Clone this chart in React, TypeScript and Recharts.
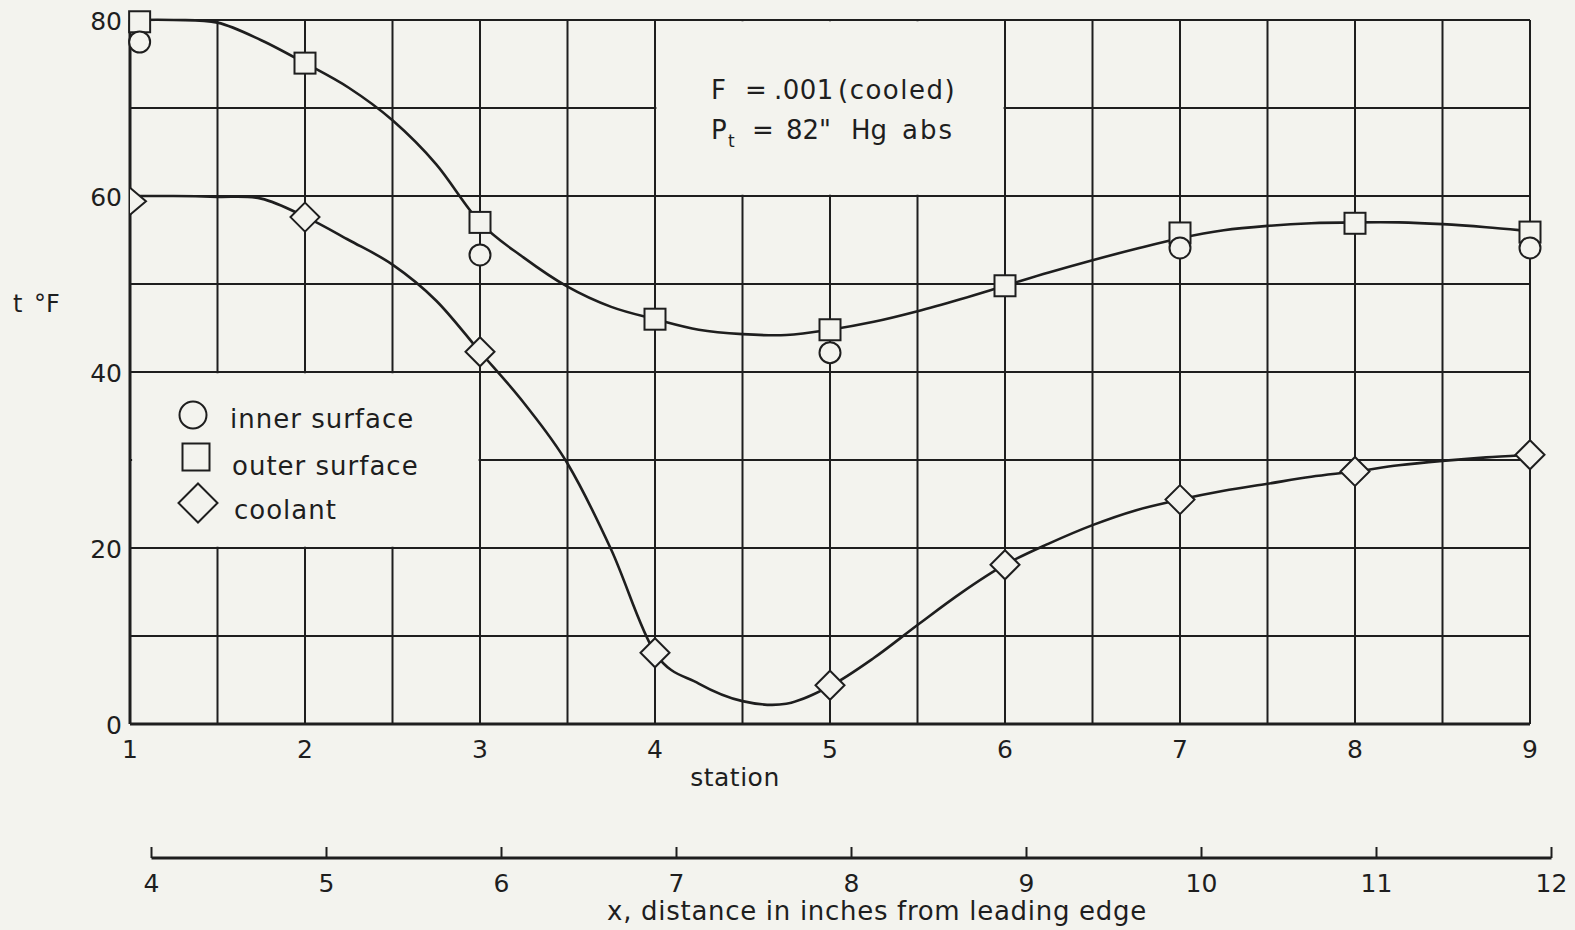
import React from 'react';
import { ComposedChart, Line, XAxis, YAxis, CartesianGrid, ReferenceArea, Legend } from 'recharts';

const BG = '#f3f3ee';
const INK = '#1e1e1e';
const FONT = '"DejaVu Sans", "Liberation Sans", sans-serif';

// ---- axes / ticks ----
const stationTicks = [1, 1.5, 2, 2.5, 3, 3.5, 4, 4.5, 5, 5.5, 6, 6.5, 7, 7.5, 8, 8.5, 9];
const tempTicks = [0, 10, 20, 30, 40, 50, 60, 70, 80];
const inchTicks = [4, 5, 6, 7, 8, 9, 10, 11, 12];

// ---- measured points (marker positions as drawn; station-1 markers sit just right of the axis) ----
const outerStations = [1.055, 2, 3, 4, 5, 6, 7, 8, 9];
const outerSurface = [79.8, 75.1, 57.0, 46.0, 44.8, 49.8, 55.8, 56.9, 55.9];
const coolantStations = [1, 2, 3, 4, 5, 6, 7, 8, 9];
const coolant = [59.4, 57.6, 42.3, 8.1, 4.4, 18.1, 25.5, 28.7, 30.6];
const innerStations = [1.055, 3, 5, 7, 9];
const innerSurface = [77.5, 53.3, 42.2, 54.1, 54.1];

// ---- faired curves ----
const curveStations = [1, 1.25, 1.5, 1.75, 2, 2.25, 2.5, 2.75, 3, 3.25, 3.5, 3.75, 4, 4.25, 4.5, 4.75, 5,
  5.25, 5.5, 5.75, 6, 6.25, 6.5, 6.75, 7, 7.25, 7.5, 7.75, 8, 8.25, 8.5, 8.75, 9];
const outerCurve = [80, 80, 79.7, 77.7, 75.1, 72.3, 68.6, 63.6, 57.0, 53.0, 49.7, 47.4, 46.0, 44.8, 44.3, 44.2, 44.8,
  45.7, 46.9, 48.3, 49.8, 51.3, 52.7, 54.0, 55.2, 56.1, 56.6, 56.9, 57.0, 57.0, 56.8, 56.45, 56.0];
const coolantCurve = [60, 60, 59.9, 59.7, 57.65, 55.0, 52.2, 48.1, 42.3, 36.5, 29.6, 19.8, 8.1, 4.6, 2.6, 2.3, 4.3,
  7.5, 11.25, 14.9, 18.1, 20.5, 22.6, 24.3, 25.5, 26.5, 27.3, 28.1, 28.7, 29.4, 29.9, 30.3, 30.6];

const seriesNames = { inner: 'inner surface', outer: 'outer surface', coolant: 'coolant' };
const legendOrder = [seriesNames.inner, seriesNames.outer, seriesNames.coolant];

const toXY = (xs: number[], ys: number[]) => xs.map((x, i) => ({ x, y: ys[i] }));
const outerPts = toXY(outerStations, outerSurface);
const coolantPts = toXY(coolantStations, coolant);
const innerPts = toXY(innerStations, innerSurface);
const outerCurvePts = toXY(curveStations, outerCurve);
const coolantCurvePts = toXY(curveStations, coolantCurve);
const inchData = inchTicks.map((x) => ({ x, v: 0 }));

// ---- smooth curve through the traced points (Catmull-Rom as a d3-style curve factory) ----
function catmullRom(context: any) {
  let pts: number[][] = [];
  return {
    areaStart() {},
    areaEnd() {},
    lineStart() { pts = []; },
    point(x: number, y: number) { pts.push([+x, +y]); },
    lineEnd() {
      const n = pts.length;
      if (!n) return;
      context.moveTo(pts[0][0], pts[0][1]);
      for (let i = 0; i < n - 1; i++) {
        const p0 = pts[i - 1] || pts[i];
        const p1 = pts[i];
        const p2 = pts[i + 1];
        const p3 = pts[i + 2] || p2;
        context.bezierCurveTo(
          p1[0] + (p2[0] - p0[0]) / 6, p1[1] + (p2[1] - p0[1]) / 6,
          p2[0] - (p3[0] - p1[0]) / 6, p2[1] - (p3[1] - p1[1]) / 6,
          p2[0], p2[1]);
      }
    },
  };
}

// ---- marker shapes ----
const circleShape = (cx: number, cy: number, r: number, key?: any) => (
  <circle key={key} cx={cx} cy={cy} r={r} fill={BG} stroke={INK} strokeWidth={2} />
);
const squareShape = (cx: number, cy: number, s: number, key?: any) => (
  <rect key={key} x={cx - s / 2} y={cy - s / 2} width={s} height={s} fill={BG} stroke={INK} strokeWidth={2} />
);
const diamondShape = (cx: number, cy: number, h: number, key?: any) => (
  <path key={key} d={`M${cx},${cy - h}L${cx + h},${cy}L${cx},${cy + h}L${cx - h},${cy}Z`} fill={BG} stroke={INK} strokeWidth={2} />
);

const CircleDot = (p: any) => (p.cx == null ? <g key={p.index} /> : circleShape(p.cx, p.cy, 10.5, p.index));
const SquareDot = (p: any) => (p.cx == null ? <g key={p.index} /> : squareShape(p.cx, p.cy, 21, p.index));
const DiamondDot = (p: any) => {
  if (p.cx == null) return <g key={p.index} />;
  if (p.index === 0) {
    // at the axis only the right half of the diamond shows
    const h = 13.5;
    return (
      <path key={p.index} d={`M${p.cx},${p.cy - h}L${p.cx + 16},${p.cy}L${p.cx},${p.cy + h}`}
        fill={BG} stroke={INK} strokeWidth={2} />
    );
  }
  return diamondShape(p.cx, p.cy, 14.5, p.index);
};

// ---- ticks ----
const StationTick = (p: any) => {
  const v = p.payload.value;
  if (!Number.isInteger(v)) return <g />;
  return (
    <text x={p.x} y={p.y + 34} textAnchor="middle" fontFamily={FONT} fontSize={25} fill={INK}>{v}</text>
  );
};
const TempTick = (p: any) => {
  const v = p.payload.value;
  if (v % 20 !== 0) return <g />;
  return (
    <text x={p.x - 8} y={p.y + 10} textAnchor="end" fontFamily={FONT} fontSize={25} fill={INK}>{v}</text>
  );
};
const InchTick = (p: any) => (
  <g>
    <line x1={p.x} x2={p.x} y1={p.y - 11} y2={p.y} stroke={INK} strokeWidth={2} />
    <text x={p.x} y={p.y + 34} textAnchor="middle" fontFamily={FONT} fontSize={25} fill={INK}>{p.payload.value}</text>
  </g>
);

// ---- legend ----
const renderLegend = (props: any) => {
  const items = (props.payload || [])
    .filter((e: any) => legendOrder.includes(e.value))
    .sort((a: any, b: any) => legendOrder.indexOf(a.value) - legendOrder.indexOf(b.value));
  const rowMarkerY = [25, 67, 113];
  const rowTextY = [38, 85, 129];
  return (
    <svg width={300} height={150} style={{ overflow: 'visible', display: 'block' }}>
      {items.map((e: any, i: number) => {
        const name = e.value;
        let marker: any = null;
        if (name === seriesNames.inner) marker = circleShape(33, rowMarkerY[i], 13.5);
        else if (name === seriesNames.outer) marker = squareShape(36, rowMarkerY[i], 27);
        else marker = diamondShape(38, rowMarkerY[i], 19.5);
        return (
          <g key={name}>
            {marker}
            <text x={70 + i * 2} y={rowTextY[i]} fontFamily={FONT} fontSize={26} letterSpacing={1} fill={INK}>{name}</text>
          </g>
        );
      })}
    </svg>
  );
};

export default function App() {
  return (
    <div style={{ position: 'absolute', left: 0, top: 0, width: 1575, height: 930, background: BG, overflow: 'hidden' }}>
      <ComposedChart width={1575} height={800} margin={{ top: 20, right: 45, bottom: 26, left: 70 }}>
        <CartesianGrid stroke={INK} strokeWidth={2} />
        <XAxis type="number" dataKey="x" domain={[1, 9]} ticks={stationTicks} interval={0} height={50}
          tickSize={0} tickMargin={0} tickLine={false} axisLine={{ stroke: INK, strokeWidth: 3 }} tick={<StationTick />} allowDecimals />
        <YAxis type="number" dataKey="y" domain={[0, 80]} ticks={tempTicks} interval={0} width={60}
          tickSize={0} tickMargin={0} tickLine={false} axisLine={{ stroke: INK, strokeWidth: 3 }} tick={<TempTick />} />
        <ReferenceArea x1={1.012} x2={2.992} y1={20.14} y2={39.86} fill={BG} fillOpacity={1} stroke="none" />
        <ReferenceArea x1={4.008} x2={5.992} y1={60.14} y2={79.86} fill={BG} fillOpacity={1} stroke="none" />
        <Line data={outerCurvePts} dataKey="y" type={catmullRom as any} stroke={INK} strokeWidth={2.6} dot={false}
          activeDot={false} legendType="none" isAnimationActive={false} name="outer curve" />
        <Line data={coolantCurvePts} dataKey="y" type={catmullRom as any} stroke={INK} strokeWidth={2.6} dot={false}
          activeDot={false} legendType="none" isAnimationActive={false} name="coolant curve" />
        <Line data={outerPts} dataKey="y" stroke="none" dot={<SquareDot />} activeDot={false}
          isAnimationActive={false} name={seriesNames.outer} legendType="square" />
        <Line data={coolantPts} dataKey="y" stroke="none" dot={<DiamondDot />} activeDot={false}
          isAnimationActive={false} name={seriesNames.coolant} legendType="diamond" />
        <Line data={innerPts} dataKey="y" stroke="none" dot={<CircleDot />} activeDot={false}
          isAnimationActive={false} name={seriesNames.inner} legendType="circle" />
        <Legend layout="vertical" align="center" verticalAlign="middle" content={renderLegend}
          wrapperStyle={{ left: 160, top: 390, width: 300, height: 150 }} />
      </ComposedChart>

      <div style={{ position: 'absolute', left: 0, top: 800 }}>
        <ComposedChart width={1575} height={130} data={inchData} margin={{ top: 10, right: 23.5, bottom: 12, left: 151.5 }}>
          <XAxis type="number" dataKey="x" domain={[4, 12]} ticks={inchTicks} interval={0} height={60}
            tickSize={0} tickMargin={0} tickLine={false} axisLine={{ stroke: INK, strokeWidth: 3 }} tick={<InchTick />} />
          <YAxis hide domain={[0, 1]} />
          <Line dataKey="v" stroke="none" dot={false} activeDot={false} isAnimationActive={false} legendType="none" />
        </ComposedChart>
      </div>

      <svg width={1575} height={930} style={{ position: 'absolute', left: 0, top: 0, pointerEvents: 'none' }}>
        <text x={13} y={312} fontFamily={FONT} fontSize={24} fill={INK} wordSpacing={4}>t °F</text>
        <text x={711} y={99} fontFamily={FONT} fontSize={26} fill={INK}>
          <tspan x={711}>F</tspan>
          <tspan x={745}>=</tspan>
          <tspan x={774} letterSpacing={0.5}>.001</tspan>
          <tspan x={838} letterSpacing={1.5}>(cooled)</tspan>
        </text>
        <text x={711} y={139} fontFamily={FONT} fontSize={26} fill={INK}>
          <tspan x={711}>P</tspan>
          <tspan x={728} dy={8} fontSize={17}>t</tspan>
          <tspan x={752} dy={-8}>=</tspan>
          <tspan x={786}>82"</tspan>
          <tspan x={851}>Hg</tspan>
          <tspan x={902} letterSpacing={2}>abs</tspan>
        </text>
        <text x={735} y={786} textAnchor="middle" fontFamily={FONT} fontSize={25} fill={INK} letterSpacing={0.5}>station</text>
        <text x={877} y={920} textAnchor="middle" fontFamily={FONT} fontSize={26} fill={INK} letterSpacing={0.7}>x, distance in inches from leading edge</text>
      </svg>
    </div>
  );
}
